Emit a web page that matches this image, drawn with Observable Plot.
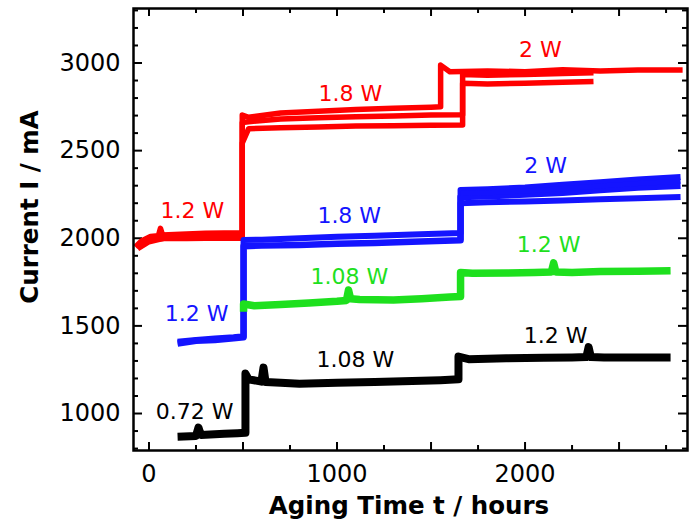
<!DOCTYPE html>
<html>
<head>
<meta charset="utf-8">
<script src="https://cdn.jsdelivr.net/npm/d3@7"></script>
<script src="https://cdn.jsdelivr.net/npm/@observablehq/plot@0.6"></script>
<style>
  html, body { margin: 0; padding: 0; background: #fff; }
  #chart svg { display: block; }
</style>
</head>
<body>
<div id="chart"></div>
<script>
// ---- Data (aging time in hours, current in mA) ----
const redA_t = [-72, -40, 8, 50, 61, 72, 200, 300, 400, 496, 496, 530, 700, 900, 1100, 1300, 1500, 1551, 1551, 1600, 1800, 2000, 2200, 2400, 2600, 2838];
const redA_I = [1950, 1985, 2010, 2015, 2057, 2018, 2025, 2028, 2030, 2032, 2703, 2690, 2715, 2725, 2735, 2742, 2748, 2750, 2988, 2950, 2955, 2950, 2962, 2955, 2960, 2960];
const redB_t = [-60, 0, 100, 200, 300, 400, 496, 496, 530, 700, 900, 1100, 1300, 1500, 1668, 1668, 1800, 2000, 2200, 2364];
const redB_I = [1940, 1980, 2005, 2010, 2012, 2015, 2015, 2660, 2665, 2680, 2688, 2693, 2698, 2703, 2705, 2935, 2930, 2935, 2940, 2945];
const redC_t = [-50, 20, 100, 200, 300, 400, 496, 496, 530, 700, 900, 1100, 1300, 1500, 1668, 1668, 1800, 2000, 2200, 2364];
const redC_I = [1960, 1995, 2000, 1998, 2000, 2002, 2000, 2543, 2625, 2630, 2635, 2640, 2642, 2645, 2646, 2885, 2880, 2885, 2890, 2895];

const blueA_t = [152, 250, 350, 450, 503, 503, 600, 800, 1000, 1200, 1400, 1657, 1657, 1800, 2000, 2200, 2400, 2600, 2827];
const blueA_I = [1409, 1420, 1428, 1435, 1441, 1990, 1992, 2000, 2008, 2015, 2022, 2030, 2275, 2280, 2290, 2305, 2320, 2335, 2350];
const blueB_t = [152, 250, 350, 450, 503, 503, 600, 800, 1000, 1200, 1400, 1657, 1657, 1800, 2000, 2200, 2400, 2600, 2827];
const blueB_I = [1400, 1415, 1420, 1430, 1435, 1955, 1958, 1962, 1968, 1973, 1980, 1988, 2235, 2240, 2250, 2260, 2275, 2290, 2300];
const blueC_t = [1657, 1657, 1800, 2000, 2200, 2400, 2600, 2827];
const blueC_I = [1988, 2200, 2205, 2210, 2215, 2222, 2228, 2235];
const blueD_t = [1657, 1800, 2000, 2200, 2400, 2600, 2827];
const blueD_I = [2255, 2260, 2270, 2282, 2298, 2312, 2325];

const green_t = [503, 503, 560, 700, 850, 1000, 1050, 1061, 1072, 1120, 1300, 1450, 1600, 1657, 1657, 1720, 1900, 2050, 2140, 2152, 2164, 2250, 2400, 2600, 2774];
const green_I = [1580, 1625, 1615, 1622, 1630, 1640, 1645, 1705, 1655, 1650, 1648, 1655, 1665, 1668, 1805, 1800, 1802, 1805, 1808, 1860, 1808, 1805, 1810, 1812, 1815];

const black_t = [152, 250, 263, 276, 400, 470, 513, 513, 530, 598, 609, 620, 700, 800, 1000, 1200, 1400, 1550, 1646, 1646, 1700, 1900, 2100, 2250, 2326, 2338, 2350, 2420, 2600, 2774];
const black_I = [868, 872, 920, 878, 885, 888, 890, 1228, 1195, 1182, 1262, 1180, 1176, 1170, 1175, 1180, 1185, 1190, 1195, 1325, 1310, 1315, 1318, 1320, 1322, 1379, 1322, 1320, 1320, 1320];

// Power annotations
const labelText    = ["1.2 W", "1.8 W", "2 W", "1.2 W", "1.8 W", "2 W", "1.08 W", "1.2 W", "0.72 W", "1.08 W", "1.2 W"];
const labelTime    = [231, 1071, 2081, 253, 1065, 2109, 1066, 2125, 243, 1098, 2162];
const labelCurrent = [2155, 2825, 3074, 1567, 2126, 2412, 1778, 1961, 1007, 1307, 1441];
const labelColor   = ["#ff0000", "#ff0000", "#ff0000", "#1414ff", "#1414ff", "#1414ff", "#1ee01e", "#1ee01e", "#000000", "#000000", "#000000"];

// Axis ticks
const xTickLabels = [0, 1000, 2000];
const xMajorTicks = [0, 500, 1000, 1500, 2000, 2500];
const xMinorTicks = [250, 750, 1250, 1750, 2250, 2750];
const yTickLabels = [1000, 1500, 2000, 2500, 3000];
const yMinorTicks = d3.range(800, 3301, 100).filter(v => v % 500 !== 0);

const RED = "#ff0000", BLUE = "#1414ff", GREEN = "#1ee01e", BLACK = "#000000";
const FONT = "DejaVu Sans";

const W = 689, H = 524, ML = 133, MR = 2, MT = 8, MB = 74;
const FW = W - ML - MR, FH = H - MT - MB;

const line = (t, I, color, w) => Plot.line(t, {x: t, y: I, stroke: color, strokeWidth: w, strokeLinejoin: "round", strokeLinecap: "butt"});
const plain = d3.format("d");
const tickS = {strokeWidth: 2, stroke: "#000"};

const chart = Plot.plot({
  width: W,
  height: H,
  marginLeft: ML,
  marginRight: MR,
  marginTop: MT,
  marginBottom: MB,
  x: {domain: [-82.4, 2864]},
  y: {domain: [789, 3311]},
  color: {type: "identity"},
  style: {fontFamily: FONT, fontSize: "24px", background: "#fff", color: "#000", overflow: "visible"},
  marks: [
    // tick labels
    Plot.axisX({anchor: "bottom", ticks: xTickLabels, tickSize: 0, tickPadding: 14, tickFormat: plain, fontSize: 24, label: null}),
    Plot.axisY({anchor: "left", ticks: yTickLabels, tickSize: 0, tickPadding: 13, tickFormat: plain, fontSize: 24, label: null}),
    // inward ticks on all four sides
    Plot.tickX(xMajorTicks, {x: d => d, insetTop: FH - 8, ...tickS}),
    Plot.tickX(xMinorTicks, {x: d => d, insetTop: FH - 5, ...tickS}),
    Plot.tickX(xMajorTicks, {x: d => d, insetBottom: FH - 8, ...tickS}),
    Plot.tickX(xMinorTicks, {x: d => d, insetBottom: FH - 5, ...tickS}),
    Plot.tickY(yTickLabels, {y: d => d, insetRight: FW - 9, ...tickS}),
    Plot.tickY(yMinorTicks, {y: d => d, insetRight: FW - 5, ...tickS}),
    Plot.tickY(yTickLabels, {y: d => d, insetLeft: FW - 9, ...tickS}),
    Plot.tickY(yMinorTicks, {y: d => d, insetLeft: FW - 5, ...tickS}),
    // data
    line(redA_t, redA_I, RED, 5.5),
    line(redB_t, redB_I, RED, 5.5),
    line(redC_t, redC_I, RED, 5.5),
    line(blueA_t, blueA_I, BLUE, 6),
    line(blueB_t, blueB_I, BLUE, 6.5),
    line(blueC_t, blueC_I, BLUE, 6),
    line(blueD_t, blueD_I, BLUE, 5),
    line(green_t, green_I, GREEN, 7.5),
    line(black_t, black_I, BLACK, 8),
    // annotations
    Plot.text(labelText, {x: labelTime, y: labelCurrent, text: d => d, fill: labelColor, fontSize: 22}),
    // axis titles
    Plot.text(["Aging Time t / hours"], {frameAnchor: "bottom", dy: 56, dx: -1.5, text: d => d, textAnchor: "middle", lineAnchor: "middle", fontWeight: "bold", fontSize: 24.5}),
    Plot.text(["Current I / mA"], {frameAnchor: "left", dx: -103.5, dy: -22.5, rotate: -90, text: d => d, textAnchor: "middle", lineAnchor: "middle", fontWeight: "bold", fontSize: 24.5}),
    Plot.frame({stroke: "#000", strokeWidth: 2.5})
  ]
});
document.getElementById("chart").appendChild(chart);
</script>
</body>
</html>
